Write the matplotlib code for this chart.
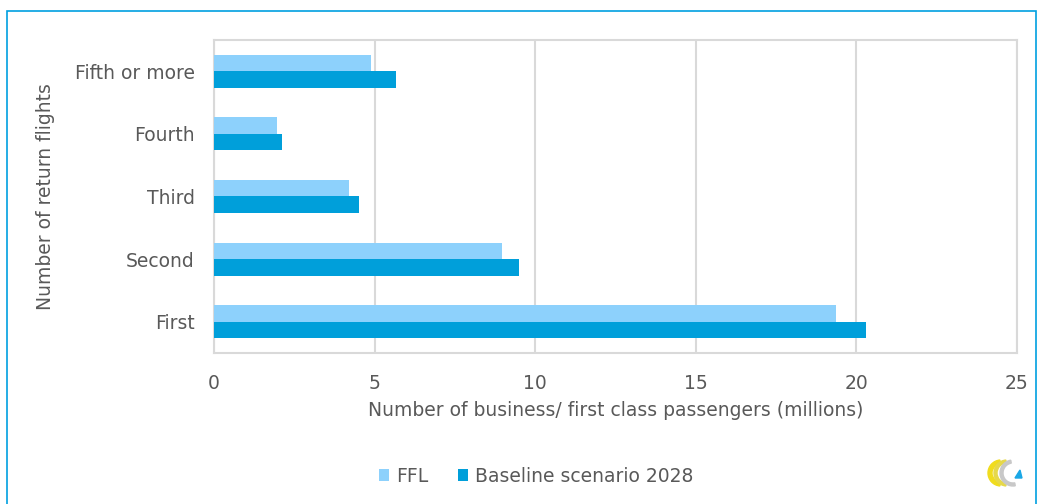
import matplotlib.pyplot as plt
import numpy as np
from matplotlib.patches import Rectangle, Wedge, Polygon

# data (millions of passengers)
categories = ["First", "Second", "Third", "Fourth", "Fifth or more"]
ffl = [19.35, 8.97, 4.21, 1.95, 4.88]
baseline = [20.3, 9.5, 4.52, 2.11, 5.66]
series_names = ["FFL", "Baseline scenario 2028"]

c_ffl = "#8dd1fc"
c_base = "#009fda"
grey = "#595959"
fs = 13.5

plt.rcParams['font.family'] = ['DejaVu Sans']

fig = plt.figure(figsize=(10.43, 5.04), dpi=100)
ax = fig.add_axes([214/1043, 1-353/504, (1017-214)/1043, (353-40)/504])

y = np.arange(len(categories))
h = 0.265
ax.barh(y + h/2, ffl, height=h, color=c_ffl, label=series_names[0], zorder=3)
ax.barh(y - h/2, baseline, height=h, color=c_base, label=series_names[1], zorder=3)

ax.set_xlim(0, 25)
ax.set_ylim(-0.5, 4.5)
ax.set_xticks([0, 5, 10, 15, 20, 25])
ax.set_yticks(y)
ax.set_yticklabels(categories)
ax.tick_params(length=0, labelsize=fs, colors=grey)
ax.tick_params(axis='x', pad=15)
ax.tick_params(axis='y', pad=14)
ax.grid(axis='x', color="#d9d9d9", linewidth=1.5, zorder=0)
for s in ax.spines.values():
    s.set_color("#d9d9d9")
    s.set_linewidth(1.5)

ax.set_xlabel("Number of business/ first class passengers (millions)", fontsize=fs, color=grey, va='center')
ax.xaxis.set_label_coords(0.5, (353-411)/313)
ax.set_ylabel("Number of return flights", fontsize=fs, color=grey, va='center')
ax.yaxis.set_label_coords((46-214)/803, 0.5)

handles, labels = ax.get_legend_handles_labels()
fig.legend(handles, labels, loc='center', bbox_to_anchor=(536/1043, 1-476/504), ncol=2,
           frameon=False, fontsize=fs, labelcolor=grey, handlelength=0.55, handleheight=0.55,
           handletextpad=0.35, columnspacing=1.6)

# outer blue frame
fig.patches.append(Rectangle((7/1043, -0.01), (1036-7)/1043, 1-11/504 + 0.01, transform=fig.transFigure,
                             fill=False, edgecolor="#00a0e0", linewidth=1.2))

# small logo bottom right
lax = fig.add_axes([985/1043, 1-490/504, 45/1043, 35/504])
lax.set_xlim(0, 45)
lax.set_ylim(0, 35)
lax.axis('off')
lax.add_patch(Wedge((16, 17), 13, 95, 265, width=4, color="#f0dc1e"))
lax.add_patch(Wedge((22, 17), 13, 95, 265, width=3, color="#e6d84a"))
lax.add_patch(Wedge((28, 17), 13, 100, 280, width=3, color="#c8c8c8"))
lax.add_patch(Polygon([[30, 12], [37, 12], [35, 20]], color="#1aa7e6"))

fig.savefig("out.png", dpi=100)
